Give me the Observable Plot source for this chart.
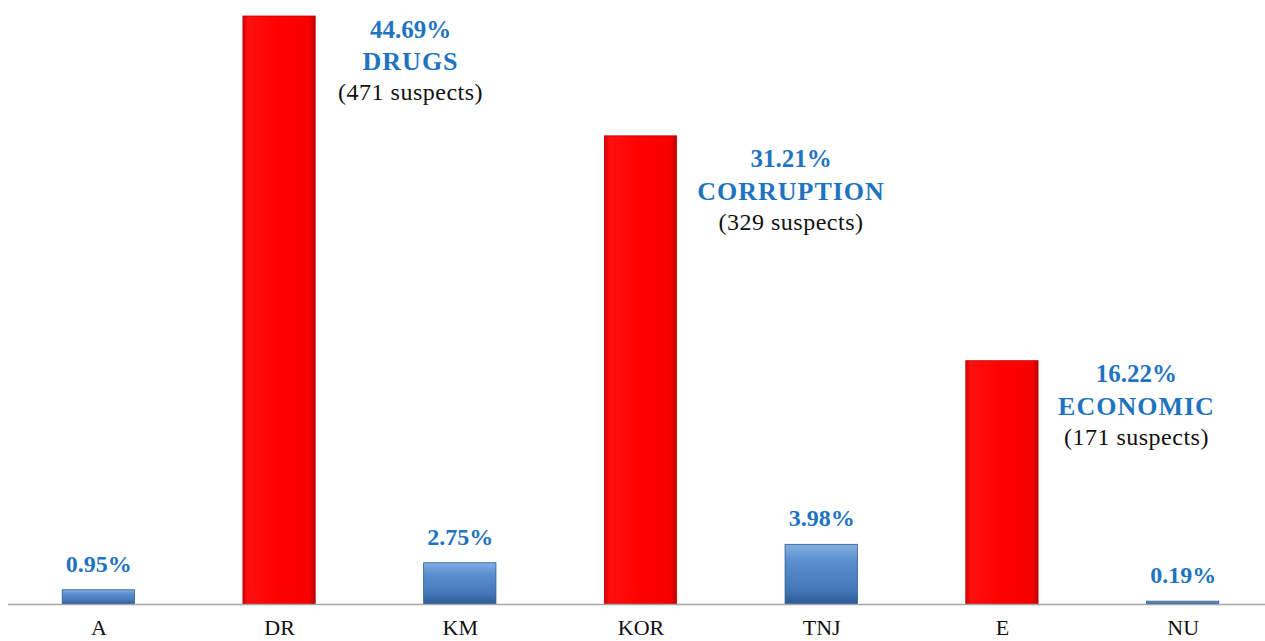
<!DOCTYPE html>
<html>
<head>
<meta charset="utf-8">
<script src="https://cdn.jsdelivr.net/npm/d3@7"></script>
<script src="https://cdn.jsdelivr.net/npm/@observablehq/plot@0.6"></script>
<style>
  html, body { margin: 0; padding: 0; background: #fff; }
  #chart svg { display: block; }
  .namelab text { letter-spacing: 1px; }
  .susplab text { letter-spacing: 0.5px; }
</style>
</head>
<body>
<div id="chart"></div>
<script>
// ---- data ----
const categories = ["A", "DR", "KM", "KOR", "TNJ", "E", "NU"];
const percents = [0.95, 44.69, 2.75, 31.21, 3.98, 16.22, 0.19];
const groupNames = [null, "DRUGS", null, "CORRUPTION", null, "ECONOMIC", null];
const suspects = [null, 471, null, 329, null, 171, null];
const highlighted = [false, true, false, true, false, true, false];

const rows = categories.map((c, i) => ({
  cat: c,
  pct: percents[i],
  name: groupNames[i],
  suspects: suspects[i],
  hi: highlighted[i]
}));
const big = rows.filter(d => d.hi);
const small = rows.filter(d => !d.hi);

const blue = "#1f74c1";
const fmtPct = v => v.toFixed(2) + "%";

// label placement for the three large bars (layout only)
const bigOffsets = {DR: {dx: 131, dy: 13}, KOR: {dx: 150, dy: 23}, E: {dx: 134, dy: 13}};

const bigLabelMarks = big.flatMap(d => {
  const o = bigOffsets[d.cat];
  const one = [d];
  return [
    Plot.text(one, {x: "cat", y: "pct", text: r => fmtPct(r.pct), dx: o.dx, dy: o.dy,
      fill: blue, fontWeight: "bold", fontSize: 25, lineAnchor: "middle", textAnchor: "middle"}),
    Plot.text(one, {x: "cat", y: "pct", text: "name", dx: o.dx, dy: o.dy + 32,
      fill: blue, fontWeight: "bold", fontSize: 26, lineAnchor: "middle", textAnchor: "middle", className: "namelab"}),
    Plot.text(one, {x: "cat", y: "pct", text: r => `(${r.suspects} suspects)`, dx: o.dx, dy: o.dy + 63,
      fill: "#111", fontSize: 24, lineAnchor: "middle", textAnchor: "middle", className: "susplab"})
  ];
});

const chart = Plot.plot({
  width: 1265,
  height: 641,
  marginLeft: 8,
  marginRight: 0,
  marginTop: 16,
  marginBottom: 37,
  style: {fontFamily: "Liberation Serif, Times New Roman, serif", background: "#fff", color: "#111"},
  x: {type: "band", domain: categories, range: [8, 1273], paddingInner: 0.6, paddingOuter: 0.3, align: 0.5, round: false, label: null},
  y: {domain: [0, 39.2], clamp: true, axis: null},
  marks: [
    Plot.barY(big, {x: "cat", y: "pct", fill: "url(#redGrad)", stroke: "#c40000", strokeWidth: 0.8}),
    Plot.barY(small, {x: "cat", y: "pct", fill: "url(#blueGrad)", stroke: "#2b5a92", strokeWidth: 0.8}),
    Plot.ruleY([0], {stroke: "#a6a6a6", strokeWidth: 1.5}),
    Plot.axisX({tickSize: 0, tickPadding: 15, fontSize: 22, fill: "#111", label: null}),
    Plot.text(small, {x: "cat", y: "pct", text: r => fmtPct(r.pct), dy: -26,
      fill: blue, fontWeight: "bold", fontSize: 24, lineAnchor: "middle", textAnchor: "middle"}),
    ...bigLabelMarks
  ]
});

// gradients for bevel-like bar shading
const svg = d3.select(chart);
const defs = svg.insert("defs", ":first-child");
const rg = defs.append("linearGradient").attr("id", "redGrad").attr("x1", 0).attr("x2", 1).attr("y1", 0).attr("y2", 0);
[[0, "#d40000"], [0.07, "#ff1010"], [0.5, "#ff0000"], [0.92, "#f80000"], [1, "#b80000"]]
  .forEach(([o, c]) => rg.append("stop").attr("offset", o).attr("stop-color", c));
const bg = defs.append("linearGradient").attr("id", "blueGrad").attr("x1", 0).attr("x2", 0).attr("y1", 0).attr("y2", 1);
[[0, "#86b0e4"], [0.28, "#5a8ecd"], [0.75, "#4478b8"], [1, "#2c5b94"]]
  .forEach(([o, c]) => bg.append("stop").attr("offset", o).attr("stop-color", c));

document.getElementById("chart").appendChild(chart);
</script>
</body>
</html>
